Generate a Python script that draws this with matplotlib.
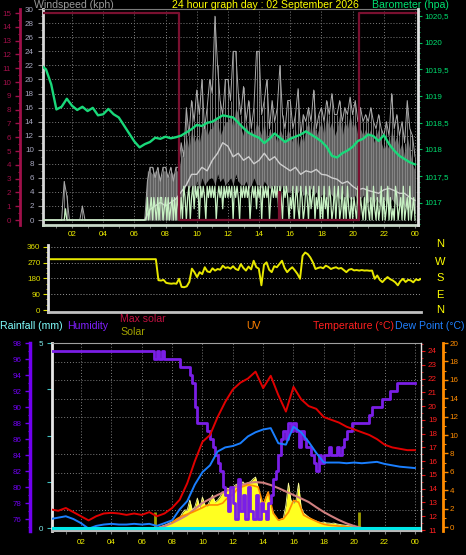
import numpy as np
import matplotlib
matplotlib.use('Agg')
import matplotlib.pyplot as plt
from matplotlib.ticker import FuncFormatter

plt.rcParams['font.family'] = ['Liberation Sans', 'DejaVu Sans']

W, H = 466, 555

# ---------------- data ----------------
# wind, 10 minute samples 00:00 .. 24:00 (kph)
gust = ([0] * 9 + [5.5, 3.5] + [0] * 5 + [2] + [0] * 24 + [5.5] +
        [7.5, 7.5, 6, 7.5, 5.5, 7.5,
         7.5, 6, 7.5, 5.5, 7.5, 7.5,
         11, 9, 16, 12, 17, 14,
         18.5, 15, 20, 13, 16, 20,
         18, 29, 22, 17, 15, 20,
         20, 17, 24, 24, 18, 15,
         19, 14, 17, 13, 16, 24,
         24, 15, 17, 20, 13, 17,
         14, 16, 22, 15, 13, 17,
         17, 13, 15, 18.7, 12, 15,
         14, 16, 14, 18.5, 13, 15,
         16, 14, 17, 15, 18, 15,
         15, 17, 14, 16, 15, 17.5,
         15, 17, 14, 16, 14, 15,
         14, 16, 14, 13, 15, 13,
         12, 14, 12, 18, 13, 15,
         12, 14, 11, 17, 13, 12,
         9])

wind_hi = ([0] * 41 + [7] +
           [7, 6.5, 7, 7, 6, 7,
            7, 6, 7, 6.5, 7, 7,
            9, 10, 12, 10, 13, 11,
            12, 11, 13, 14, 12, 13,
            13, 15, 14, 12, 13, 14,
            14, 15, 13, 16, 15, 13,
            12, 14, 12, 13, 12, 14,
            13, 12, 14, 11, 13, 12,
            12, 11, 13, 12, 11, 13,
            12, 11, 13, 10, 12, 11,
            13, 14, 12, 14, 12, 13,
            14, 12, 15, 13, 14, 12,
            13, 15, 12, 14, 13, 15,
            13, 14, 12, 13, 12, 13,
            12, 13, 11, 12, 13, 11,
            10, 11, 10, 13, 11, 12,
            10, 11, 9, 12, 10, 8,
            7])

wind_lo = ([0] * 54 +
           [3, 4, 5, 4.5, 5, 4,
            5.5, 4.5, 6, 5, 5.5, 6,
            6, 5, 6.5, 5.5, 6, 5,
            5.5, 6, 5, 6.5, 5.5, 5,
            5, 5.5, 4.5, 5, 6, 5,
            5, 4.5, 5.5, 5, 4.5, 5,
            4.5, 5, 4, 5, 4.5, 4,
            4, 4.5, 3.5, 4, 4.5, 3.5,
            4, 3.5, 4.5, 3.5, 4, 3,
            3.5, 4, 3, 4, 3.5, 3,
            3.5, 3, 4, 3, 3.5, 3,
            3, 3.5, 2.5, 3, 3.5, 2.5,
            2.5, 3, 2, 3, 2.5, 2,
            3, 2.5, 2, 3, 2.5, 2,
            2, 2.5, 2, 1.5, 2, 1.5,
            1])

# average wind, 20 minute samples
wind_avg = ([0] * 21 +
            [1.5, 2, 2.5, 2, 2.5, 3, 4, 5, 6.5, 6.5, 7.5, 7,
             8.5, 9.5, 11, 10.5, 9, 9.5, 8.5, 9, 8, 8.5, 9.5, 8.5,
             9, 8, 7.5, 7, 7.5, 6.5, 7, 6.8, 7.2, 6.5, 6.4, 6,
             5.8, 5.2, 5.5, 4.8, 4.3, 4.5, 4.2, 4, 3.8, 4.3, 4.5, 4.2,
             3.8, 3.8, 3.2, 2.8])

# wind speed, 5 minute samples
wind_speed = ([0] * 19 + [1.6] + [0] * 62 +
              [3.2, 0, 1.6, 3.2, 0, 3.2, 1.6, 0, 3.2, 0, 3.2, 3.2, 0,
               1.6, 3.2, 0, 3.2, 0, 1.6, 3.2, 0, 3.2, 0, 3.2, 1.6, 0,
               3.2, 0, 4.8, 3.2, 0, 3.2, 4.8, 0, 3.2, 4.8, 1.6, 4.8,
               3.2, 4.8, 0, 4.8, 3.2, 4.8, 3.2, 0, 4.8, 3.2, 4.8, 3.2,
               4.8, 3.2, 4.8, 0, 3.2, 4.8, 3.2, 4.8, 1.6, 4.8, 3.2, 4.8,
               3.2, 4.8, 3.2, 4.8, 0, 4.8, 3.2, 4.8, 3.2, 0, 4.8, 3.2,
               4.8, 3.2, 4.8, 3.2, 4.8, 0, 3.2, 4.8, 3.2, 4.8, 1.6, 4.8,
               3.2, 4.8, 0, 4.8, 3.2, 4.8, 3.2, 4.8, 0, 3.2, 4.8, 3.2,
               4.8, 3.2, 4.8, 1.6, 4.8, 3.2, 0, 4.8, 3.2, 4.8, 3.2, 0,
               3.2, 1.6, 4.8, 0, 3.2, 4.8, 1.6, 0, 4.8, 3.2, 0, 1.6,
               4.8, 3.2, 0, 4.8, 1.6, 3.2, 4.8, 0, 3.2, 1.6, 4.8, 0,
               3.2, 0, 4.8, 1.6, 3.2, 0, 4.8, 3.2, 0, 1.6, 4.8, 0,
               3.2, 4.8, 0, 1.6, 4.8, 0, 3.2, 0, 4.8, 1.6, 0, 3.2,
               0, 3.2, 1.6, 0, 4.8, 0, 3.2, 1.6, 0, 3.2, 0, 4.8,
               1.6, 0, 3.2, 0, 4.8, 1.6, 0, 3.2, 0, 1.6, 4.8, 0,
               3.2, 0, 1.6, 4.8, 0, 3.2, 0, 1.6, 0, 4.8, 3.2, 0,
               1.6, 3.2, 0, 4.8, 0, 1.6, 3.2, 0, 4.8, 0, 1.6, 3.2,
               0])

# dark red step series (left red scale)
red_hours = [0, 8.85, 15.28, 15.33, 20.4, 24.2]
red_values = [15, 0, 2, 0, 15, 15]

# barometer, 20 minute samples (hPa)
baro = [1019.58, 1019.50, 1019.22, 1018.75, 1018.80, 1018.95, 1018.82, 1018.74,
        1018.80, 1018.72, 1018.78, 1018.64, 1018.66, 1018.76, 1018.66, 1018.60,
        1018.45, 1018.30, 1018.15, 1018.04, 1018.10, 1018.14, 1018.22, 1018.20,
        1018.24, 1018.21, 1018.23, 1018.26, 1018.32, 1018.38, 1018.46, 1018.44,
        1018.50, 1018.52, 1018.58, 1018.64, 1018.62, 1018.60, 1018.50, 1018.40,
        1018.31, 1018.26, 1018.22, 1018.12, 1018.20, 1018.30, 1018.22, 1018.14,
        1018.20, 1018.24, 1018.28, 1018.34, 1018.28, 1018.22, 1018.15, 1018.05,
        1017.88, 1017.85, 1017.93, 1017.98, 1018.05, 1018.16, 1018.20, 1018.28,
        1018.25, 1018.16, 1018.27, 1018.10, 1017.98, 1017.88, 1017.82, 1017.76,
        1017.72]

# wind direction, 10 minute samples (degrees)
direction = ([290] * 42 +
             [170, 168, 172, 155, 152, 150,
              152, 150, 178, 132, 130, 135,
              160, 236, 215, 188, 216, 205,
              244, 220, 216, 238, 225, 234,
              230, 253, 240, 244, 236, 250,
              234, 228, 262, 240, 225, 248,
              232, 281, 245, 236, 141, 258,
              272, 230, 216, 250, 244, 262,
              281, 240, 216, 232, 244, 226,
              206, 178, 309, 328, 319, 300,
              272, 234, 240, 244, 238, 253,
              246, 234, 240, 244, 236, 240,
              228, 216, 230, 234, 226, 228,
              225, 228, 225, 226, 224, 225,
              178, 197, 172, 159, 175, 188,
              176, 169, 158, 141, 165, 178,
              160, 172, 169, 158, 175, 170,
              178])

# humidity, 10 minute samples (%)
humidity = ([97] * 41 + [96] +
            [97, 96, 97, 96, 96, 96,
             96, 96, 96, 95, 95, 95,
             95, 94, 93, 90, 88, 88,
             88, 88, 87, 86, 85, 84,
             83, 82, 80, 79, 77, 80,
             78, 76, 81, 77, 79, 76,
             80, 77, 76, 79, 76, 78,
             77, 76, 78, 79, 81, 82,
             84, 86, 87, 86, 88, 87,
             88, 87, 85, 87, 86, 85,
             85, 84, 83, 82, 84, 83,
             84, 84, 85, 84, 84, 85,
             84, 85, 86, 87, 87, 88,
             88, 88, 88, 88, 88, 88,
             89, 90, 90, 90, 90, 91,
             91, 91, 92, 92, 92, 93,
             93, 93, 93, 93, 93, 93,
             93])

# solar radiation, 10 minute samples (W/m2)
solar = ([0] * 42 +
         [0, 10, 20, 30, 40, 55,
          65, 80, 95, 108, 160, 195,
          195, 303, 195, 230, 324, 216,
          335, 249, 238, 300, 357, 281,
          303, 340, 389, 400, 432, 420,
          440, 465, 480, 450, 500, 470,
          490, 500, 530, 551, 440, 303,
          227, 330, 389, 250, 162, 120,
          86, 95, 108, 249, 486, 300,
          270, 300, 486, 227, 162, 140,
          119, 100, 86, 75, 65, 60,
          65, 55, 54, 50, 54, 45,
          40, 35, 32, 28, 25, 22,
          22, 15, 0, 0, 0, 0] +
         [0] * 18 + [0])

# max solar, 30 minute samples from 07:00
max_solar = [0, 20, 54, 95, 141, 205, 270, 315, 357, 395, 432, 460, 486, 497,
             490, 465, 432, 395, 357, 320, 281, 225, 173, 128, 86, 50, 22, 0]
max_solar_start = 7.0

# UV index, 20 minute samples from 08:00
uv = [0.5, 0.9, 1.2, 1.4, 1.6, 1.85, 2.1, 2.4, 2.4, 2.4, 2.6, 3.2,
      3.5, 4.2, 4.4, 4.6, 4.5, 4.35, 2.4, 3.8, 1.5, 0.75, 0.9, 1.6,
      2.9, 2.7, 1.3, 1.0, 0.75, 0.5, 0.3, 0.2, 0.15, 0.1, 0.05, 0.0]
uv_start = 8.0

# temperature / dew point, 30 minute samples (C)
temperature = [12.5, 12.4, 12.6, 12.3, 12.0, 11.7, 12.0, 12.2, 12.25, 12.2,
               12.1, 12.2, 12.1, 12.3, 12.0, 12.2, 12.6, 13.2, 14.4, 16.0,
               17.4, 17.9, 19.2, 20.3, 21.2, 21.7, 22.0, 22.5, 21.3, 22.2,
               20.8, 19.6, 21.4, 20.5, 20.0, 19.8, 19.2, 19.0, 18.8, 18.5,
               18.3, 18.1, 17.9, 17.6, 17.2, 17.0, 16.9, 16.8, 16.8]
dew_point = [11.8, 11.9, 12.0, 11.8, 11.5, 11.1, 11.3, 11.4, 11.45, 11.4,
             11.4, 11.45, 11.4, 11.45, 11.3, 11.5, 11.7, 12.5, 13.1, 14.3,
             15.2, 15.7, 16.7, 17.0, 17.1, 17.3, 17.8, 18.1, 18.3, 18.4,
             17.3, 17.2, 18.5, 18.1, 17.4, 16.6, 15.9, 15.9, 15.9, 15.85,
             15.9, 15.85, 15.9, 15.95, 15.8, 15.7, 15.6, 15.55, 15.5]

rain_hours = [0, 24.4]
rain_mm = [0.0, 0.0]
sun_marks = [6.85, 20.33]

hour_labels = ['02', '04', '06', '08', '10', '12', '14', '16', '18', '20', '22', '00']

# ---------------- helpers ----------------
t10 = np.arange(len(gust)) / 6
t20 = np.arange(len(wind_avg)) / 3
t5 = np.arange(len(wind_speed)) / 12
t30 = np.arange(len(temperature)) / 2

fig = plt.figure(figsize=(W / 100, H / 100), dpi=100, facecolor='black')
DOT = (0, (1, 2))
GRID = '#7c7c7c'


def box(l, t, r, b):
    return [l / W, 1 - b / H, (r - l) / W, (b - t) / H]


def side_axis(x, top, bottom, ylim, major, minor, color, side='left',
              labels=None, lw=1.5, pad=3):
    rect = box(x, top, x + 1, bottom) if side == 'left' else box(x - 1, top, x, bottom)
    a = fig.add_axes(rect)
    a.patch.set_visible(False)
    a.set_ylim(*ylim)
    a.set_xticks([])
    for s in a.spines.values():
        s.set_visible(False)
    a.spines[side].set_visible(True)
    a.spines[side].set_color(color)
    a.spines[side].set_linewidth(lw)
    a.yaxis.set_ticks_position(side)
    a.set_yticks(major)
    a.set_yticks(minor, minor=True)
    if labels is not None:
        a.set_yticklabels(labels)
    a.tick_params(axis='y', which='major', colors=color, length=3.4, width=1,
                  labelsize=5.8, pad=pad)
    a.tick_params(axis='y', which='minor', colors=color, length=1.8, width=0.8)
    return a


def text(x, y, s, color, size=7.6, ha='left'):
    fig.text(x / W, 1 - y / H, s, color=color, fontsize=size, ha=ha, va='center')


# ---------------- top panel: wind + barometer ----------------
ax1 = fig.add_axes(box(43, 9, 418, 225))
ax1.set_facecolor('black')
ax1.set_xlim(0.14, 24.19)
ax1.set_ylim(-0.71, 30.03)
ax1.set_xticks(range(2, 25, 2))
ax1.set_xticklabels(hour_labels)
ax1.set_xticks(range(1, 25), minor=True)
ax1.set_yticks(range(0, 31, 2))
ax1.set_yticks(range(0, 31), minor=True)
ax1.grid(True, which='major', color=GRID, lw=0.7, ls=DOT)
ax1.tick_params(axis='x', which='both', colors='#808080', length=2, labelcolor='#f0f000',
                labelsize=5.8, pad=2.6)
ax1.tick_params(axis='y', which='major', colors='#909090', length=3.6, labelcolor='#a8a8c0',
                labelsize=5.8, pad=3)
ax1.tick_params(axis='y', which='minor', colors='#909090', length=1.8)
ax1.spines['left'].set_color('#d8d8d8')
ax1.spines['left'].set_linewidth(2)
ax1.spines['bottom'].set_color('#c8d8c8')
ax1.spines['bottom'].set_linewidth(2)
ax1.spines['top'].set_color('#7a7a7a')
ax1.spines['right'].set_visible(False)

ax1.fill_between(t10, wind_lo, wind_hi, color='#606060', lw=0, zorder=2)
ax1.vlines(t10, wind_lo, gust, color='#8a8a8a', lw=0.6, zorder=3)
ax1.plot(t10, gust, color='#ababab', lw=0.7, zorder=3)
ax1.plot(t20, wind_avg, color='#cfcfcf', lw=1.0, zorder=4)
ax1.plot(t5, wind_speed, color='#c8f2c4', lw=0.9, zorder=5)

ax_red = ax1.twinx()
ax_red.set_ylim(-0.36, 15.29)
ax_red.axis('off')
ax_red.plot(red_hours, red_values, drawstyle='steps-post', color='#7a1030', lw=1.6)

ax_b = ax1.twinx()
ax_b.set_ylim(1016.586, 1020.631)
ax_b.plot(t20, baro, color='#19d97a', lw=1.7)
for s in ('left', 'top', 'bottom'):
    ax_b.spines[s].set_visible(False)
ax_b.spines['right'].set_color('#e0e0e0')
ax_b.spines['right'].set_linewidth(2)
ax_b.set_yticks(np.arange(1017, 1020.51, 0.5))
ax_b.set_yticks(np.arange(1016.6, 1020.61, 0.1), minor=True)
ax_b.yaxis.set_major_formatter(FuncFormatter(lambda v, p: ('%g' % v).replace('.', ',')))
ax_b.tick_params(axis='y', which='major', colors='#00c060', labelcolor='#00e070',
                 length=3, labelsize=5.8, pad=1.5)
ax_b.tick_params(axis='y', which='minor', colors='#00c060', length=1.6)

side_axis(20, 9, 225, (-0.36, 15.29), range(16), np.arange(0, 15.3, 0.5), '#a0104a',
          'left', lw=2, pad=3)

# ---------------- wind direction panel ----------------
ax2 = fig.add_axes(box(48, 245, 421, 312))
ax2.set_facecolor('black')
ax2.set_xlim(-0.15, 24.0)
ax2.set_ylim(-11.4, 371)
ax2.set_xticks([])
ax2.set_yticks([0, 90, 180, 270, 360])
ax2.set_yticks(range(0, 361, 30), minor=True)
ax2.tick_params(axis='y', which='major', colors='#e0e000', length=3.4, labelsize=5.8, pad=2)
ax2.tick_params(axis='y', which='minor', colors='#e0e000', length=1.8)
for v in (90, 180, 270, 360):
    ax2.axhline(v, color='#9a9a9a', lw=0.7, ls=DOT, zorder=0)
ax2.spines['left'].set_color('#e0e0e0')
ax2.spines['left'].set_linewidth(2)
ax2.spines['bottom'].set_color('#c0c0c0')
ax2.spines['bottom'].set_linewidth(2)
ax2.spines['top'].set_visible(False)
ax2.spines['right'].set_visible(False)
ax2.plot(t10, direction, color='#e8e800', lw=1.4)

for y, s in zip((244, 262, 278, 295, 310), 'NWSEN'):
    text(440, y, s, '#ffff00', size=8, ha='center')

# ---------------- bottom panel ----------------
ax3 = fig.add_axes(box(52, 343, 421, 531))
ax3.set_facecolor('black')
ax3.set_xlim(0.09, 24.4)
ax3.set_ylim(-0.08, 5)
ax3.set_xticks(range(2, 25, 2))
ax3.set_xticklabels(hour_labels)
ax3.set_xticks(range(1, 25), minor=True)
ax3.set_yticks([0, 1.25, 2.5, 3.75, 5])
ax3.set_yticklabels(['0', '', '', '', '5'])
ax3.set_yticks(np.arange(0.5, 4.6, 0.5), minor=True)
ax3.grid(True, axis='x', which='major', color=GRID, lw=0.7, ls=DOT)
ax3.grid(True, axis='y', which='minor', color=GRID, lw=0.7, ls=DOT)
ax3.tick_params(axis='x', which='both', colors='#808080', length=2, labelcolor='#f0f000',
                labelsize=5.8, pad=3.4)
ax3.tick_params(axis='y', which='major', colors='#40c0c0', labelcolor='#80e8e8',
                length=3.4, labelsize=5.8, pad=3)
ax3.tick_params(axis='y', which='minor', length=0)
ax3.spines['left'].set_color('#e8e8e8')
ax3.spines['left'].set_linewidth(2)
ax3.spines['bottom'].set_color('#b8b8b8')
ax3.spines['bottom'].set_linewidth(1.5)
ax3.spines['top'].set_color('#a0a0a0')
ax3.spines['right'].set_visible(False)

ax_s = ax3.twinx()
ax_s.set_ylim(-32, 2000)
ax_s.axis('off')
ax_s.fill_between(t10, 0, solar, color='#ffff20', lw=0)
ax_s.plot(t10, solar, color='#ffffa0', lw=0.6)
ax_s.vlines(sun_marks, 0, 170, color='#a0a000', lw=2)
ax_s.plot(max_solar_start + np.arange(len(max_solar)) / 2, max_solar, color='#d08080', lw=1.5)

ax_uv = ax3.twinx()
ax_uv.set_ylim(-0.43, 20)
ax_uv.axis('off')
ax_uv.plot(uv_start + np.arange(len(uv)) / 3, uv, color='#ff8c00', lw=1.2)

ax_h = ax3.twinx()
ax_h.set_ylim(74.5, 98)
ax_h.axis('off')
ax_h.plot(t10, humidity, drawstyle='steps-post', color='#7a1ee6', lw=2)

ax_t = ax3.twinx()
ax_t.set_ylim(10.93, 24.58)
for s in ('left', 'top', 'bottom'):
    ax_t.spines[s].set_visible(False)
ax_t.spines['right'].set_color('#e8e8e8')
ax_t.spines['right'].set_linewidth(1)
ax_t.set_yticks(range(11, 25))
ax_t.set_yticks(np.arange(11, 24.6, 0.5), minor=True)
ax_t.tick_params(axis='y', which='major', colors='#e01010', labelcolor='#ff2020',
                 length=3, labelsize=5.8, pad=2)
ax_t.tick_params(axis='y', which='minor', colors='#e01010', length=1.6)
ax_t.plot(t30, dew_point, color='#1a7fff', lw=1.4)
ax_t.plot(t30, temperature, color='#e00000', lw=1.4)

ax_rain = ax3.twinx()
ax_rain.set_ylim(-0.08, 5)
ax_rain.axis('off')
ax_rain.plot(rain_hours, rain_mm, color='#00e8e8', lw=2.2)

side_axis(30, 343, 531, (74.5, 98), range(76, 99, 2), range(75, 99), '#7000f0',
          'left', lw=2.5, pad=2.5)
side_axis(443, 343, 531, (-0.43, 20), range(0, 21, 2), range(0, 21), '#ff8c00',
          'right', lw=2, pad=1.5)

# ---------------- titles / legends ----------------
text(34, 5, 'Windspeed (kph)', '#9a9a9a')
text(172, 5, '24 hour graph day : 02 September 2026', '#ffff00')
text(372, 5, 'Barometer (hpa)', '#00e070')

text(0, 326, 'Rainfall (mm)', '#80ffff')
text(67, 326, 'Humidity', '#8020ff')
text(120, 319, 'Max solar', '#c01040')
text(120, 332, 'Solar', '#a0a000')
text(246, 326, 'UV', '#ff8000')
text(313, 326, 'Temperature (°C)', '#ff2020')
text(395, 326, 'Dew Point (°C)', '#2080ff')

fig.savefig('out.png', dpi=100, facecolor='black')
